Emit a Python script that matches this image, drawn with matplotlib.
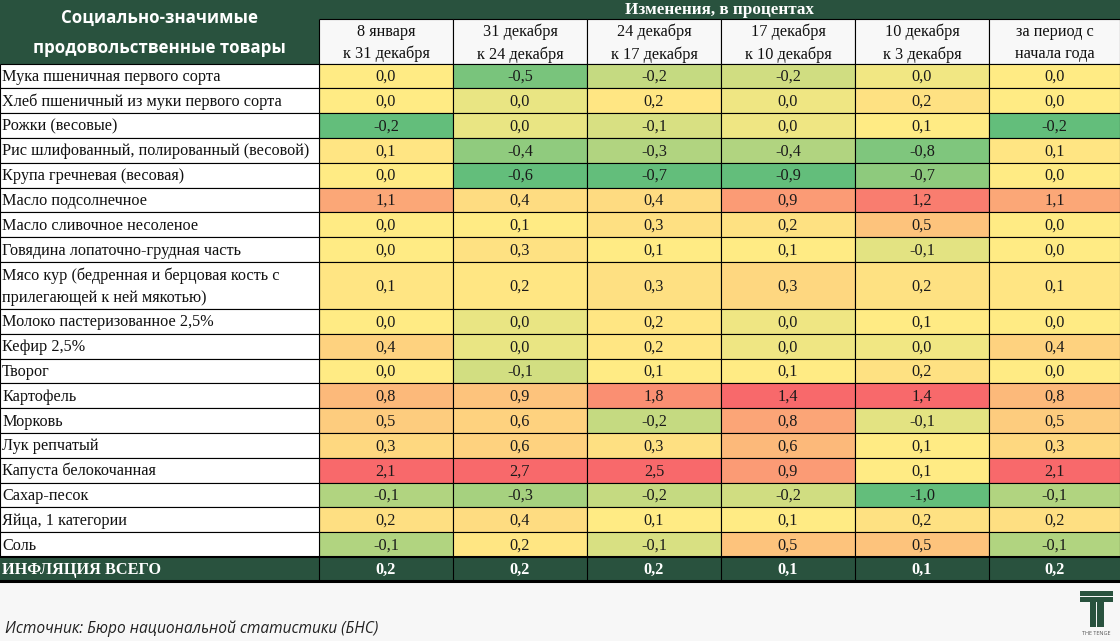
import matplotlib
matplotlib.use("Agg")
import matplotlib.pyplot as plt
from matplotlib.patches import Rectangle
import numpy as np

# ---------------- data ----------------
products = [
    "Мука пшеничная первого сорта",
    "Хлеб пшеничный из муки первого сорта",
    "Рожки (весовые)",
    "Рис шлифованный, полированный (весовой)",
    "Крупа гречневая (весовая)",
    "Масло подсолнечное",
    "Масло сливочное несоленое",
    "Говядина лопаточно-грудная часть",
    "Мясо кур (бедренная и берцовая кость с\nприлегающей к ней мякотью)",
    "Молоко пастеризованное 2,5%",
    "Кефир 2,5%",
    "Творог",
    "Картофель",
    "Морковь",
    "Лук репчатый",
    "Капуста белокочанная",
    "Сахар-песок",
    "Яйца, 1 категории",
    "Соль",
]
periods = [
    "8 января\nк 31 декабря",
    "31 декабря\nк 24 декабря",
    "24 декабря\nк 17 декабря",
    "17 декабря\nк 10 декабря",
    "10 декабря\nк 3 декабря",
    "за период с\nначала года",
]
jan8_dec31 = [0.0, 0.0, -0.2, 0.1, 0.0, 1.1, 0.0, 0.0, 0.1, 0.0, 0.4, 0.0, 0.8, 0.5, 0.3, 2.1, -0.1, 0.2, -0.1]
dec31_dec24 = [-0.5, 0.0, 0.0, -0.4, -0.6, 0.4, 0.1, 0.3, 0.2, 0.0, 0.0, -0.1, 0.9, 0.6, 0.6, 2.7, -0.3, 0.4, 0.2]
dec24_dec17 = [-0.2, 0.2, -0.1, -0.3, -0.7, 0.4, 0.3, 0.1, 0.3, 0.2, 0.2, 0.1, 1.8, -0.2, 0.3, 2.5, -0.2, 0.1, -0.1]
dec17_dec10 = [-0.2, 0.0, 0.0, -0.4, -0.9, 0.9, 0.2, 0.1, 0.3, 0.0, 0.0, 0.1, 1.4, 0.8, 0.6, 0.9, -0.2, 0.1, 0.5]
dec10_dec3 = [0.0, 0.2, 0.1, -0.8, -0.7, 1.2, 0.5, -0.1, 0.2, 0.1, 0.0, 0.2, 1.4, -0.1, 0.1, 0.1, -1.0, 0.2, 0.5]
year_to_date = [0.0, 0.0, -0.2, 0.1, 0.0, 1.1, 0.0, 0.0, 0.1, 0.0, 0.4, 0.0, 0.8, 0.5, 0.3, 2.1, -0.1, 0.2, -0.1]
inflation_label = "ИНФЛЯЦИЯ ВСЕГО"
inflation_total = [0.2, 0.2, 0.2, 0.1, 0.1, 0.2]

header_left = "Социально-значимые\nпродовольственные товары"
header_top = "Изменения, в процентах"
source = "Источник: Бюро национальной статистики (БНС)"

columns = [jan8_dec31, dec31_dec24, dec24_dec17, dec17_dec10, dec10_dec3, year_to_date]

# ---------------- style ----------------
DARK = "#29523e"
BG = "#f7f7f7"
GREEN = np.array([0x63, 0xBE, 0x7B]) / 255
YELLOW = np.array([0xFF, 0xEB, 0x84]) / 255
RED = np.array([0xF8, 0x69, 0x6B]) / 255
SERIF = ["Liberation Serif", "DejaVu Serif"]
SANS = ["Open Sans", "DejaVu Sans"]


def scale_color(v, vmin, vmid, vmax):
    if v <= vmid:
        t = 0.0 if vmid == vmin else (v - vmin) / (vmid - vmin)
        return GREEN + (YELLOW - GREEN) * t
    t = 0.0 if vmax == vmid else (v - vmid) / (vmax - vmid)
    return YELLOW + (RED - YELLOW) * t


def fmt(v):
    return f"{v:.1f}".replace(".", ",")


W, H = 1120, 641
fig = plt.figure(figsize=(W / 100, H / 100), dpi=100, facecolor=BG)
ax = fig.add_axes([0, 0, 1, 1])
ax.set_xlim(0, W)
ax.set_ylim(H, 0)
ax.axis("off")

label_w = 319
col_w = 134
col_x = [label_w + col_w * i for i in range(len(periods))] + [W]
top_band = 19
header_bottom = 63.5
row_h = 24.8
row_units = [1.9 if "\n" in p else 1.0 for p in products]
row_y = [header_bottom]
for u in row_units:
    row_y.append(row_y[-1] + u * row_h)
data_bottom = row_y[-1]
infl_bottom = data_bottom + 23.5

lw = 0.8
FS = 11.7

# header left block
ax.add_patch(Rectangle((0, 0), label_w, header_bottom, facecolor=DARK, edgecolor="none"))
ax.text(label_w / 2, header_bottom / 2 + 1.5, header_left, color="white", ha="center", va="center",
        fontsize=12.2, fontweight="bold", family=SANS, linespacing=1.85)
# header top band
ax.add_patch(Rectangle((label_w, 0), W - label_w, top_band, facecolor=DARK, edgecolor="none"))
ax.text((label_w + W) / 2, top_band / 2 + 0.5, header_top, color="white", ha="center", va="center",
        fontsize=12.3, fontweight="bold", family=SERIF)
# subheader
for j, p in enumerate(periods):
    x0, x1 = col_x[j], col_x[j + 1]
    ax.add_patch(Rectangle((x0, top_band), x1 - x0, header_bottom - top_band,
                           facecolor="#f8f8f8", edgecolor="black", linewidth=lw))
    ax.text((x0 + x1) / 2, (top_band + header_bottom) / 2 + 2, p, ha="center", va="center",
            fontsize=FS, family=SERIF, color="#111111", linespacing=1.47)

# data cells
for j, col in enumerate(columns):
    vmin, vmax = min(col), max(col)
    vmid = float(np.percentile(col, 50))
    x0, x1 = col_x[j], col_x[j + 1]
    for i, v in enumerate(col):
        y0, y1 = row_y[i], row_y[i + 1]
        ax.add_patch(Rectangle((x0, y0), x1 - x0, y1 - y0, facecolor=scale_color(v, vmin, vmid, vmax),
                               edgecolor="black", linewidth=lw))
        ax.text((x0 + x1) / 2, (y0 + y1) / 2 + 1, fmt(v), ha="center", va="center",
                fontsize=FS, family=SERIF, color="#1a1a1a")

# labels
for i, p in enumerate(products):
    y0, y1 = row_y[i], row_y[i + 1]
    ax.add_patch(Rectangle((0, y0), label_w, y1 - y0, facecolor="white", edgecolor="black", linewidth=lw))
    ax.text(2, (y0 + y1) / 2 + 1, p, ha="left", va="center", fontsize=FS, family=SERIF,
            color="#111111", linespacing=1.5)

# inflation row
ax.add_patch(Rectangle((0, data_bottom), W, infl_bottom - data_bottom, facecolor=DARK,
                       edgecolor="none"))
ax.text(2, (data_bottom + infl_bottom) / 2 + 1, inflation_label, ha="left", va="center",
        fontsize=FS, fontweight="bold", family=SERIF, color="white")
for j, v in enumerate(inflation_total):
    x0, x1 = col_x[j], col_x[j + 1]
    ax.plot([x0, x0], [data_bottom, infl_bottom], color="black", linewidth=lw)
    ax.text((x0 + x1) / 2, (data_bottom + infl_bottom) / 2 + 1, fmt(v), ha="center", va="center",
            fontsize=FS, fontweight="bold", family=SERIF, color="white")
ax.plot([0, W], [data_bottom, data_bottom], color="black", linewidth=1.5)
ax.plot([0, W], [infl_bottom, infl_bottom], color="black", linewidth=2.2)

# source
ax.text(5, 629, source, ha="left", va="center", fontsize=11.2, style="italic", family=SANS,
        color="#222222")

# logo
ax.add_patch(Rectangle((1080, 591), 33, 4.5, facecolor=DARK, edgecolor="none"))
ax.add_patch(Rectangle((1080, 596.5), 33, 5, facecolor=DARK, edgecolor="none"))
ax.add_patch(Rectangle((1089.5, 601), 6.5, 26, facecolor=DARK, edgecolor="none"))
ax.add_patch(Rectangle((1097, 601), 6.5, 26, facecolor=DARK, edgecolor="none"))
ax.text(1096.5, 633.5, "THE TENGE", ha="center", va="center", fontsize=4, family=SANS, color="#555555")

fig.savefig("out.png", dpi=100, facecolor=BG)
